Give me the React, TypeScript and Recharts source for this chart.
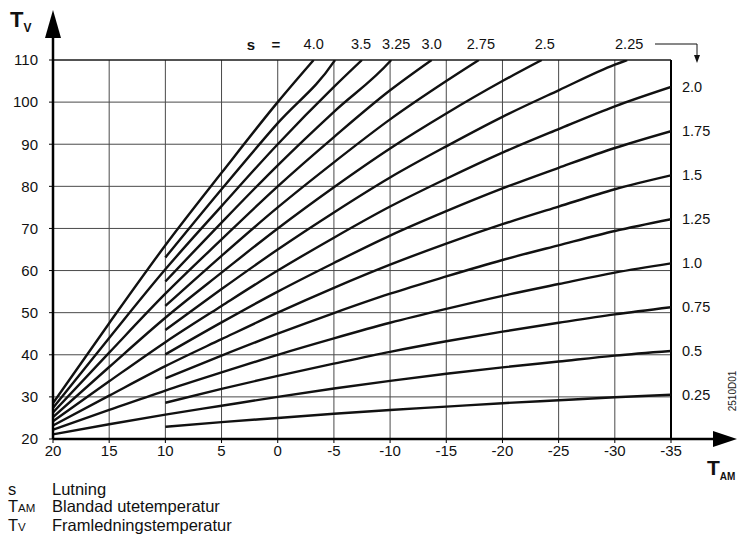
import React from "react";
import { LineChart, Line, XAxis, YAxis, CartesianGrid, ReferenceLine } from "recharts";

// Outdoor temperature ticks (x axis, reversed) and flow temperature ticks (y axis)
const X_TICKS = [20, 15, 10, 5, 0, -5, -10, -15, -20, -25, -30, -35];
const Y_TICKS = [20, 30, 40, 50, 60, 70, 80, 90, 100, 110];

// Temperatures at which each curve has read values
const TA_LEFT = [20, 15];
const TA_RIGHT = [10, 5, 0, -5, -10, -15, -20, -25, -30, -35];

// Flow temperature readings per slope (from x=10 rightwards)
const S_025 = [22.9, 24.0, 25.0, 26.0, 26.9, 27.7, 28.5, 29.2, 29.9, 30.5];
const S_050 = [25.8, 27.9, 30.0, 32.0, 33.8, 35.5, 37.0, 38.4, 39.8, 40.9];
const S_075 = [28.6, 31.9, 35.0, 37.9, 40.7, 43.2, 45.5, 47.6, 49.6, 51.3];
const S_100 = [31.5, 35.8, 40.0, 43.9, 47.6, 50.9, 54.0, 56.8, 59.5, 61.7];
const S_125 = [34.4, 39.8, 45.0, 49.9, 54.5, 58.6, 62.5, 66.0, 69.4, 72.2];
const S_150 = [37.3, 43.7, 50.0, 55.9, 61.4, 66.4, 71.0, 75.2, 79.3, 82.6];
const S_175 = [40.1, 47.7, 55.0, 61.8, 68.3, 74.1, 79.5, 84.4, 89.1, 93.1];
const S_200 = [43.0, 51.6, 60.0, 67.8, 75.2, 81.8, 88.0, 93.6, 99.0, 103.6];
const S_225 = [45.9, 55.6, 65.0, 73.8, 82.1, 89.5, 96.5, 102.8, 108.9];
const S_250 = [48.8, 59.5, 70.0, 79.8, 89.0, 97.3, 105.0];
const S_275 = [51.6, 63.5, 75.0, 85.7, 95.9, 105.0];
const S_300 = [54.5, 67.4, 80.0, 91.7, 102.8];
const S_325 = [57.4, 71.4, 85.0, 97.7, 109.7];
const S_350 = [60.3, 75.3, 90.0, 103.6];
const S_375 = [63.1, 79.3, 95.0, 109.6];
const S_400 = [66.0, 83.2, 100.0];

// Left part (x = 20, 15) of curves drawn from the room temperature
const L_050 = [21.1, 23.5];
const L_100 = [22.2, 26.9];
const L_150 = [23.2, 30.3];
const L_200 = [24.2, 33.7];
const L_250 = [25.2, 37.1];
const L_300 = [26.3, 40.5];
const L_350 = [27.4, 44.0];
const L_400 = [28.5, 47.5];

// Where steep curves reach the top (110)
const TOP_Y = 110;
const TOP_X: Record<string, number> = {
  "2.25": -31.1, "2.5": -23.5, "2.75": -17.9, "3.0": -13.7,
  "3.25": -10.1, "3.5": -7.5, "3.75": -5.1, "4.0": -3.2,
};

const SLOPES = ["0.25", "0.5", "0.75", "1.0", "1.25", "1.5", "1.75", "2.0", "2.25", "2.5", "2.75", "3.0", "3.25", "3.5", "3.75", "4.0"];
const RIGHT_VALUES = [S_025, S_050, S_075, S_100, S_125, S_150, S_175, S_200, S_225, S_250, S_275, S_300, S_325, S_350, S_375, S_400];
const LEFT_VALUES: (number[] | null)[] = [null, L_050, null, L_100, null, L_150, null, L_200, null, L_250, null, L_300, null, L_350, null, L_400];
const SHOWN_LABEL = [true, true, true, true, true, true, true, true, true, true, true, true, true, true, false, true];
const LABEL_SHIFT: Record<string, number> = { "3.25": 5, "3.5": -1, "2.75": 2, "2.5": 3, "2.25": 2 };

const FONT = "'Liberation Sans', Arial, Helvetica, sans-serif";

type Pt = { x: number; y: number };

const curves = SLOPES.map((s, i) => {
  const pts: Pt[] = [];
  const left = LEFT_VALUES[i];
  if (left) left.forEach((v, k) => pts.push({ x: TA_LEFT[k], y: v }));
  RIGHT_VALUES[i].forEach((v, k) => pts.push({ x: TA_RIGHT[k], y: v }));
  const top = TOP_X[s] !== undefined;
  if (top) pts.push({ x: TOP_X[s], y: TOP_Y });
  return { s, pts, top, shown: SHOWN_LABEL[i] };
});

const makeLabel = (c: { s: string; pts: Pt[]; top: boolean; shown: boolean }) => (props: any) => {
  const { index, x, y } = props;
  if (!c.shown || index !== c.pts.length - 1) return null;
  if (c.top) {
    return (
      <text x={x + (LABEL_SHIFT[c.s] || 0)} y={y - 16} textAnchor="middle" dominantBaseline="central" fontSize={14.5} fontFamily={FONT} fill="#111">
        {c.s}
      </text>
    );
  }
  return (
    <text x={x + 11} y={y} textAnchor="start" dominantBaseline="central" fontSize={14.5} fontFamily={FONT} fill="#111">
      {c.s}
    </text>
  );
};

export default function App() {
  return (
    <div style={{ position: "relative", width: 737, height: 546, background: "#fff", fontFamily: FONT, overflow: "hidden" }}>
      <style>{`body{margin:0;}`}</style>
      <LineChart width={737} height={546} margin={{ top: 60, right: 66, bottom: 77, left: 13 }}>
        <CartesianGrid stroke="#4a4a4a" strokeWidth={1} />
        <XAxis
          dataKey="x"
          type="number"
          domain={[-35, 20]}
          reversed
          ticks={X_TICKS}
          interval={0}
          allowDataOverflow
          height={30}
          tickSize={4}
          tickMargin={2}
          axisLine={{ stroke: "#000", strokeWidth: 2.5 }}
          tickLine={{ stroke: "#000" }}
          tick={{ fontSize: 15, fontFamily: FONT, fill: "#111" }}
        />
        <YAxis
          type="number"
          domain={[20, 110]}
          ticks={Y_TICKS}
          interval={0}
          allowDataOverflow
          width={40}
          tickSize={4}
          tickMargin={11}
          axisLine={{ stroke: "#000", strokeWidth: 2.5 }}
          tickLine={{ stroke: "#000" }}
          tick={{ fontSize: 15, fontFamily: FONT, fill: "#111" }}
        />
        <ReferenceLine x={-35} stroke="#000" strokeWidth={2} />
        <ReferenceLine y={110} stroke="#000" strokeWidth={1} />
        {curves.map((c) => (
          <Line
            key={c.s}
            data={c.pts}
            dataKey="y"
            type="monotone"
            stroke="#111"
            strokeWidth={2.4}
            dot={false}
            activeDot={false}
            isAnimationActive={false}
            label={makeLabel(c)}
          />
        ))}
      </LineChart>

      {/* Axis arrows and pointer */}
      <svg width={737} height={546} style={{ position: "absolute", left: 0, top: 0, pointerEvents: "none" }}>
        <line x1={53} y1={38} x2={53} y2={60} stroke="#000" strokeWidth={2.5} />
        <polygon points="53,10 45,38 61,38" fill="#000" />
        <line x1={671} y1={439} x2={714} y2={439} stroke="#000" strokeWidth={2.5} />
        <polygon points="737,439 713,431 713,447" fill="#000" />
        <polyline points="655,44 697,44 697,56" fill="none" stroke="#111" strokeWidth={1} />
        <polygon points="697,63 694,55 700,55" fill="#111" />
        <text x={732} y={391} transform="rotate(-90 732 391)" textAnchor="middle" dominantBaseline="central" fontSize={10} fontFamily={FONT} fill="#222">
          2510D01
        </text>
        <text x={251} y={44} textAnchor="middle" dominantBaseline="central" fontSize={15} fontWeight="bold" fontFamily={FONT} fill="#111">s</text>
        <text x={276} y={44} textAnchor="middle" dominantBaseline="central" fontSize={15} fontWeight="bold" fontFamily={FONT} fill="#111">=</text>
      </svg>

      {/* Axis titles */}
      <div style={{ position: "absolute", left: 10, top: 9, fontSize: 22, fontWeight: "bold", color: "#111", lineHeight: 1 }}>
        T<span style={{ fontSize: 12, verticalAlign: -5 }}>V</span>
      </div>
      <div style={{ position: "absolute", left: 707, top: 457, fontSize: 21, fontWeight: "bold", color: "#111", lineHeight: 1, whiteSpace: "nowrap" }}>
        T<span style={{ fontSize: 10, verticalAlign: -5 }}>AM</span>
      </div>

      {/* Legend */}
      <div style={{ position: "absolute", left: 8, top: 481, fontSize: 16.5, color: "#111", lineHeight: "17px" }}>
        <div style={{ display: "flex" }}><span style={{ width: 44 }}>s</span><span>Lutning</span></div>
        <div style={{ display: "flex" }}><span style={{ width: 44 }}>T<span style={{ fontSize: 11.5 }}>AM</span></span><span>Blandad utetemperatur</span></div>
        <div style={{ display: "flex" }}><span style={{ width: 44 }}>T<span style={{ fontSize: 11.5 }}>V</span></span><span>Framledningstemperatur</span></div>
      </div>
    </div>
  );
}
